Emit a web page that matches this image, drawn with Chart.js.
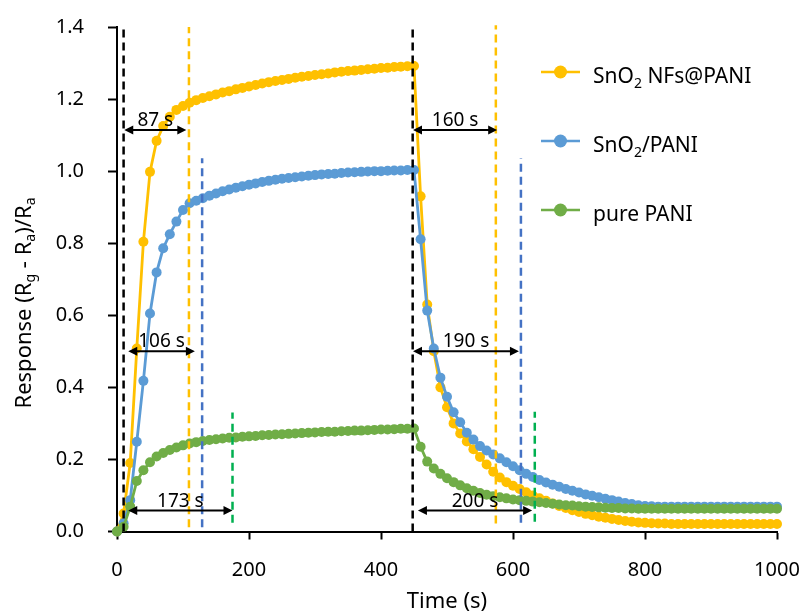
<!DOCTYPE html>
<html><head><meta charset="utf-8">
<script src="https://cdn.jsdelivr.net/npm/chart.js@4.4.1/dist/chart.umd.min.js"></script>
<style>html,body{margin:0;padding:0;background:#fff}#wrap{width:805px;height:615px}</style>
</head><body><div id="wrap"><canvas id="c" width="805" height="615"></canvas></div>
<script>
// ---- data ----
const timeS = [0,10,20,30,40,50,60,70,80,90,100,110,120,130,140,150,160,170,180,190,200,210,220,230,240,250,260,270,280,290,300,310,320,330,340,350,360,370,380,390,400,410,420,430,440,450,460,470,480,490,500,510,520,530,540,550,560,570,580,590,600,610,620,630,640,650,660,670,680,690,700,710,720,730,740,750,760,770,780,790,800,810,820,830,840,850,860,870,880,890,900,910,920,930,940,950,960,970,980,990,1000];
const sno2NfsPani = [0,0.05,0.19,0.508,0.804,0.998,1.084,1.125,1.151,1.17,1.181,1.19,1.197,1.203,1.208,1.213,1.218,1.222,1.227,1.231,1.235,1.239,1.243,1.247,1.25,1.253,1.256,1.259,1.262,1.264,1.267,1.269,1.271,1.274,1.276,1.278,1.279,1.281,1.283,1.284,1.286,1.287,1.289,1.29,1.291,1.292,
 0.93,0.63,0.50,0.40,0.345,0.30,0.272,0.25,0.228,0.207,0.186,0.166,0.15,0.137,0.127,0.118,0.109,0.1,0.092,0.085,0.078,0.071,0.065,0.059,0.054,0.049,0.045,0.041,0.038,0.035,0.032,0.029,0.027,0.025,0.024,0.023,0.022,0.022,0.021,0.021,0.021,0.021,0.021,0.021,0.021,0.021,0.021,0.021,0.021,0.021,0.021,0.021,0.021,0.021,0.021];
const sno2Pani = [0,0.023,0.087,0.249,0.418,0.605,0.719,0.786,0.825,0.86,0.892,0.911,0.918,0.925,0.932,0.938,0.944,0.949,0.954,0.958,0.962,0.966,0.97,0.973,0.976,0.979,0.981,0.983,0.985,0.987,0.989,0.991,0.992,0.993,0.995,0.996,0.997,0.998,0.999,1.0,1.0,1.001,1.002,1.002,1.003,1.003,
 0.811,0.613,0.508,0.427,0.374,0.331,0.303,0.274,0.255,0.237,0.225,0.214,0.203,0.192,0.181,0.17,0.16,0.151,0.143,0.136,0.13,0.124,0.118,0.113,0.108,0.103,0.099,0.095,0.091,0.087,0.083,0.079,0.076,0.073,0.071,0.07,0.069,0.069,0.069,0.069,0.069,0.069,0.069,0.069,0.069,0.069,0.069,0.069,0.069,0.069,0.069,0.069,0.069,0.069,0.069];
const purePani = [0,0.013,0.069,0.14,0.17,0.192,0.208,0.218,0.226,0.233,0.239,0.244,0.248,0.251,0.254,0.256,0.258,0.26,0.261,0.263,0.264,0.265,0.267,0.268,0.269,0.27,0.271,0.272,0.273,0.274,0.275,0.276,0.277,0.277,0.278,0.279,0.28,0.28,0.281,0.282,0.283,0.283,0.284,0.285,0.285,0.286,
 0.235,0.194,0.175,0.16,0.148,0.137,0.128,0.12,0.113,0.107,0.102,0.098,0.095,0.092,0.089,0.087,0.085,0.083,0.081,0.079,0.077,0.075,0.073,0.072,0.07,0.069,0.068,0.067,0.066,0.065,0.065,0.064,0.064,0.063,0.063,0.063,0.063,0.063,0.063,0.063,0.063,0.063,0.063,0.063,0.063,0.063,0.063,0.063,0.063,0.063,0.063,0.063,0.063,0.063,0.063];
const xTicks = [0,200,400,600,800,1000];
const yTicks = [0,0.2,0.4,0.6,0.8,1.0,1.2,1.4];
// dashed guide lines (time, value range)
const guideTime = [10,109,129,175,448,574,612,633];
const guideFrom = [0,0.012,0.012,0.024,0,0.022,0.024,0.027];
const guideTo   = [1.4,1.4,1.036,0.33,1.4,1.405,1.036,0.332];
// response / recovery time arrows
const arrowLabel = ['87 s','106 s','173 s','160 s','190 s','200 s'];
const arrowStart = [11,17,17,448.5,448.5,456];
const arrowEnd   = [105,118,175,576,609,629];
const arrowLevel = [1.114,0.50,0.058,1.114,0.50,0.058];

// ---- styles ----
const C_Y = '#FFC000', C_B = '#5B9BD5', C_G = '#70AD47';
const guideColors = ['#000000', '#FFC000', '#4472C4', '#00B050', '#000000', '#FFC000', '#4472C4', '#00B050'];
const FONT = '"Noto Sans", "DejaVu Sans", sans-serif';
const TARGET = {left: 117, right: 777, top: 27, bottom: 531.5};

function series(vals){ return timeS.map((t,i)=>({x:t,y:vals[i]})); }
function mk(label, vals, color, order){
  return {label, data: series(vals), borderColor: color, backgroundColor: color,
    pointBackgroundColor: color, pointBorderWidth: 0, pointRadius: 5, borderWidth: 2.8,
    tension: 0, order, clip: false};
}
const datasets = [
  mk('SnO2 NFs@PANI', sno2NfsPani, C_Y, 3),
  mk('SnO2/PANI', sno2Pani, C_B, 2),
  mk('pure PANI', purePani, C_G, 1)
];
guideTime.forEach((t,i)=>{
  datasets.push({label:'guide'+i, data:[{x:t,y:guideFrom[i]},{x:t,y:guideTo[i]}],
    borderColor: guideColors[i], borderWidth: 2.5, borderDash:[8,5], pointRadius:0, order:0, clip:false});
});

function drawSubText(ctx, parts, x, y, big, small, subDy){
  let cx = x;
  for (const [t, sub] of parts){
    ctx.font = (sub ? small : big) + 'px ' + FONT;
    ctx.fillText(t, cx, y + (sub ? subDy : 0));
    cx += ctx.measureText(t).width;
  }
  return cx - x;
}
function measureSub(ctx, parts, big, small){
  let w = 0;
  for (const [t, sub] of parts){ ctx.font = (sub ? small : big) + 'px ' + FONT; w += ctx.measureText(t).width; }
  return w;
}

const legendItems = [
  {color: C_Y, parts: [['SnO',0],['2',1],[' NFs@PANI',0]]},
  {color: C_B, parts: [['SnO',0],['2',1],['/PANI',0]]},
  {color: C_G, parts: [['pure PANI',0]]}
];

const overlay = {
  id: 'overlay',
  afterDatasetsDraw(chart){
    const {ctx, scales:{x, y}} = chart;
    ctx.save();
    ctx.strokeStyle = '#000'; ctx.fillStyle = '#000'; ctx.lineWidth = 2;
    const head = (px, py, dir) => {
      ctx.beginPath(); ctx.moveTo(px, py); ctx.lineTo(px + dir*9, py - 4.5); ctx.lineTo(px + dir*9, py + 4.5); ctx.closePath(); ctx.fill();
    };
    for (let i = 0; i < arrowLabel.length; i++){
      const x0 = x.getPixelForValue(arrowStart[i]), x1 = x.getPixelForValue(arrowEnd[i]);
      const yy = y.getPixelForValue(arrowLevel[i]);
      ctx.beginPath(); ctx.moveTo(x0 + 4, yy); ctx.lineTo(x1 - 4, yy); ctx.stroke();
      head(x0, yy, 1); head(x1, yy, -1);
      ctx.font = '19px ' + FONT; ctx.textAlign = 'center'; ctx.textBaseline = 'alphabetic';
      ctx.fillText(arrowLabel[i], (x0 + x1) / 2, yy - 4);
    }
    ctx.restore();
  },
  afterDraw(chart){
    const {ctx, chartArea} = chart;
    ctx.save();
    // legend
    const lx = chartArea.left + 424, ly0 = 72, lstep = 69;
    legendItems.forEach((it, i) => {
      const cy = ly0 + i*lstep;
      ctx.strokeStyle = it.color; ctx.lineWidth = 2.5;
      ctx.beginPath(); ctx.moveTo(lx, cy); ctx.lineTo(lx + 39, cy); ctx.stroke();
      ctx.fillStyle = it.color; ctx.beginPath(); ctx.arc(lx + 19.5, cy, 6.5, 0, Math.PI*2); ctx.fill();
      ctx.fillStyle = '#000'; ctx.textAlign = 'left'; ctx.textBaseline = 'alphabetic';
      drawSubText(ctx, it.parts, lx + 52, cy + 11, 21, 14, 5);
    });
    // x title
    ctx.fillStyle = '#000'; ctx.textAlign = 'center'; ctx.textBaseline = 'middle';
    ctx.font = '22px ' + FONT;
    ctx.fillText('Time (s)', (chartArea.left + chartArea.right)/2, 602);
    // y title
    const parts = [['Response (R',0],['g',1],[' - R',0],['a',1],[')/R',0],['a',1]];
    ctx.translate(25, 303); ctx.rotate(-Math.PI/2);
    ctx.textAlign = 'left'; ctx.textBaseline = 'middle';
    const w = measureSub(ctx, parts, 22, 14);
    drawSubText(ctx, parts, -w/2, 0, 22, 14, 6);
    ctx.restore();
  }
};

function noPad(s){ s.paddingLeft = 0; s.paddingRight = 0; s.paddingTop = 0; s.paddingBottom = 0; }

const pad = {left: 0, top: 27, right: 28, bottom: 0};
const chart = new Chart(document.getElementById('c'), {
  type: 'line',
  data: {datasets},
  plugins: [overlay],
  options: {
    responsive: false, animation: false, events: [],
    layout: {padding: pad},
    plugins: {legend: {display: false}, tooltip: {enabled: false}},
    scales: {
      x: {
        type: 'linear', min: 0, max: 1000,
        afterFit(s){ s.height = 615 - TARGET.bottom - pad.bottom; noPad(s); },
        afterBuildTicks(s){ s.ticks = xTicks.map(v => ({value: v})); },
        grid: {display: true, drawOnChartArea: false, drawTicks: true, tickLength: 8, tickColor: '#000', tickWidth: 2},
        border: {display: true, color: '#000', width: 2},
        ticks: {color: '#000', font: {family: 'Noto Sans', size: 20}, padding: 19, maxRotation: 0,
          callback: v => String(v)}
      },
      y: {
        type: 'linear', min: 0, max: 1.4,
        afterFit(s){ s.width = TARGET.left - pad.left; noPad(s); },
        afterBuildTicks(s){ s.ticks = yTicks.map(v => ({value: v})); },
        grid: {display: true, drawOnChartArea: false, drawTicks: true, tickLength: 9, tickColor: '#000', tickWidth: 2},
        border: {display: true, color: '#000', width: 2},
        ticks: {color: '#000', font: {family: 'Noto Sans', size: 20}, padding: 24,
          callback: v => Number(v).toFixed(1)}
      }
    }
  }
});
for (let k = 0; k < 4; k++){
  const a = chart.chartArea;
  pad.top += TARGET.top - a.top;
  pad.right += a.right - TARGET.right;
  pad.left += TARGET.left - a.left;
  pad.bottom += a.bottom - TARGET.bottom;
  chart.options.layout.padding = {...pad};
  chart.update('none');
}
</script></body></html>
